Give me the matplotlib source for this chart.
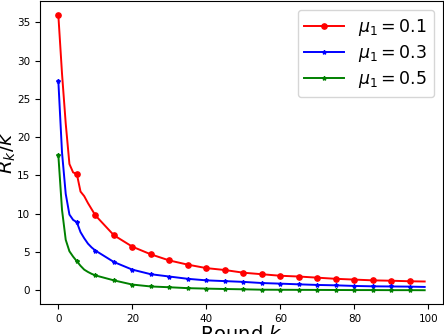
import matplotlib
matplotlib.use("Agg")
import matplotlib.pyplot as plt

rounds = [0, 1, 2, 3, 4, 5, 6, 7, 8, 9, 10, 15, 20, 25, 30, 35, 40, 45, 50,
          55, 60, 65, 70, 75, 80, 85, 90, 95, 99]
mu_01 = [36.0, 28.3, 21.8, 16.5, 15.4, 15.2, 12.9, 12.3, 11.4, 10.6, 9.8,
         7.2, 5.7, 4.7, 3.9, 3.35, 2.9, 2.65, 2.3, 2.1, 1.9, 1.8, 1.65, 1.5,
         1.4, 1.3, 1.25, 1.18, 1.15]
mu_03 = [27.4, 18.0, 12.6, 9.9, 9.2, 8.9, 7.6, 6.8, 6.1, 5.6, 5.2,
         3.7, 2.7, 2.1, 1.8, 1.5, 1.3, 1.2, 1.1, 0.95, 0.87, 0.78, 0.7, 0.65,
         0.57, 0.52, 0.5, 0.48, 0.44]
mu_05 = [17.7, 10.5, 6.6, 5.1, 4.4, 3.8, 3.2, 2.7, 2.4, 2.15, 1.95,
         1.3, 0.75, 0.5, 0.4, 0.28, 0.22, 0.17, 0.13, 0.08, 0.07, 0.06, 0.05,
         0.04, 0.03, 0.03, 0.02, 0.02, 0.01]
labels = [r'$\mu_1 = 0.1$', r'$\mu_1 = 0.3$', r'$\mu_1 = 0.5$']

marks = [i for i, k in enumerate(rounds) if k % 5 == 0]

fig = plt.figure(figsize=(4.44, 3.34), dpi=100)
ax = fig.add_axes([40 / 444, 30 / 334, 403 / 444, 303 / 334])
ax.plot(rounds, mu_01, color='red', marker='o', markersize=3.8, lw=1.4,
        markevery=marks, label=labels[0])
ax.plot(rounds, mu_03, color='blue', marker='*', markersize=3, lw=1.4,
        markevery=marks, label=labels[1])
ax.plot(rounds, mu_05, color='green', marker='*', markersize=3, lw=1.4,
        markevery=marks, label=labels[2])

ax.set_xticks([0, 20, 40, 60, 80, 100])
ax.set_yticks([0, 5, 10, 15, 20, 25, 30, 35])
ax.tick_params(labelsize=7.5)
ax.set_xlabel(r'Round $k$', fontsize=14, labelpad=1)
ax.set_ylabel(r'$R_k/k$', fontsize=14, labelpad=-1)
ax.legend(fontsize=12.5, numpoints=1, loc='upper right', handlelength=2.3,
          labelspacing=0.3)

fig.savefig('out.png', dpi=100)
